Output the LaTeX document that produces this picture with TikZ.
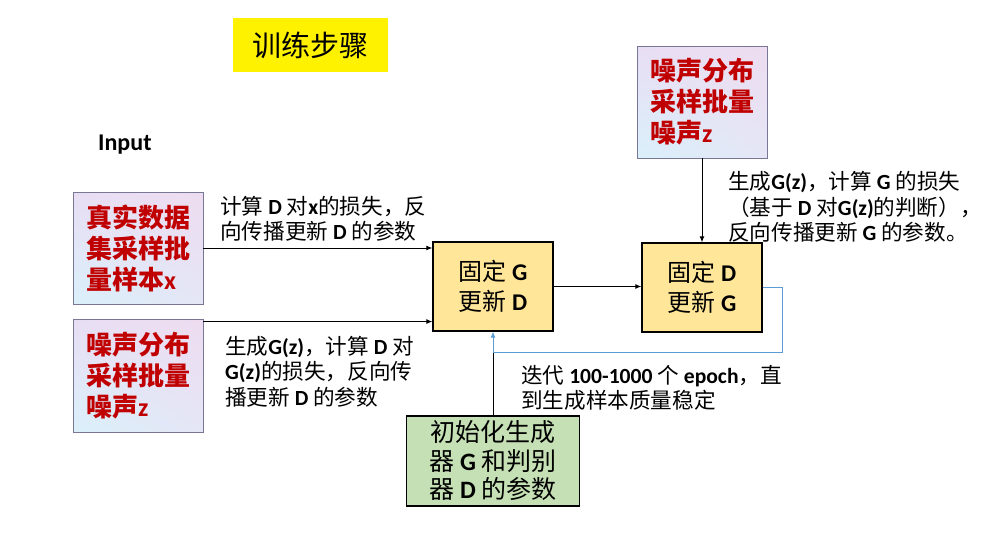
\documentclass[tikz,border=0pt]{standalone}
\usepackage{fontspec}
\setmainfont{Noto Sans CJK SC}
\newfontfamily\latfont{Carlito}
\newcommand\Lb[1]{{\latfont\bfseries #1}}
\usetikzlibrary{arrows.meta,shadings}
\definecolor{redtxt}{RGB}{192,0,0}
\definecolor{lavborder}{RGB}{120,120,150}
\definecolor{lavUL}{RGB}{232,222,244}
\definecolor{lavUR}{RGB}{238,220,240}
\definecolor{lavLL}{RGB}{218,240,250}
\definecolor{lavLR}{RGB}{228,230,246}
\definecolor{goldfill}{RGB}{255,230,153}
\definecolor{greenfill}{RGB}{197,224,180}
\definecolor{loopblue}{RGB}{91,155,213}
\tikzset{
  lav/.style={draw=lavborder, line width=0.9pt, upper left=lavUL, upper right=lavUR,
    lower left=lavLL, lower right=lavLR, minimum width=130pt, minimum height=112pt,
    align=left, text=redtxt, inner sep=0pt,
    font={\fontsize{26}{31}\selectfont\bfseries}},
  gold/.style={draw=black, line width=1.3pt, fill=goldfill, minimum width=120pt,
    minimum height=89pt, align=left, inner sep=0pt,
    font={\fontsize{24}{30}\selectfont}},
  lbl/.style={anchor=north west, inner sep=0pt, align=left,
    font={\fontsize{21.6}{25.5}\selectfont}},
  arr/.style={draw=black, line width=1pt, -{Latex[length=6pt,width=5pt]}},
}
\begin{document}
\begin{tikzpicture}[x=1pt,y=-1pt]
\useasboundingbox[fill=white] (0,0) rectangle (993,541);

\node[fill=yellow, minimum width=155pt, minimum height=54pt, inner sep=0pt,
  font={\fontsize{29}{34}\selectfont}] (title) at (310.5,45) {训练步骤};

\node[anchor=west, inner sep=0pt, font={\fontsize{24}{28}\selectfont\latfont\bfseries}]
  (input) at (98,145) {Input};

\node[lav] (b1) at (138,248) {真实数据\\集采样批\\量样本\Lb{x}};
\node[lav, minimum height=113pt] (b2) at (138,375.5) {噪声分布\\采样批量\\噪声\Lb{z}};
\node[lav] (tn) at (702,102) {噪声分布\\采样批量\\噪声\Lb{z}};

\node[gold] (bG) at (493,286.5) {固定\Lb{ G}\\更新\Lb{ D}};
\node[gold] (bD) at (702,287.5) {固定\Lb{ D}\\更新\Lb{ G}};

\node[draw=black, line width=1.3pt, fill=greenfill, minimum width=173pt,
  minimum height=90pt, align=center, inner sep=0pt,
  font={\fontsize{25}{28.5}\selectfont}] (init) at (493,461)
  {初始化生成\\器\Lb{ G }和判别\\器\Lb{ D }的参数};

\node[lbl] (l1) at (220,196) {计算\Lb{ D }对\Lb{x}的损失，反\\向传播更新\Lb{ D }的参数};
\node[lbl] (l2) at (225,336) {生成\Lb{G(z)}，计算\Lb{ D }对\\\Lb{G(z)}的损失，反向传\\播更新\Lb{ D }的参数};
\node[lbl] (l3) at (728,171.5) {生成\Lb{G(z)}，计算\Lb{ G }的损失\\（基于\Lb{ D }对\Lb{G(z)}的判断），\\反向传播更新\Lb{ G }的参数。};
\node[lbl] (l4) at (521,365) {迭代\Lb{ 100-1000 }个\Lb{ epoch}，直\\到生成样本质量稳定};

\draw[arr] (b1.east) -- (b1.east -| bG.west);
\draw[arr] ([yshift=-3pt]b2.north east) -- ([yshift=-3pt]b2.north east -| bG.west);
\draw[arr] (bG.east) -- (bG.east -| bD.west);
\draw[arr] (tn.south) -- (bD.north);

\coordinate (fb) at (782,352);
\draw[black, line width=1pt] (init.north) -- (init.north |- fb);
\draw[loopblue, line width=1pt, -{Latex[length=6pt,width=5pt]}]
  (bD.east) -| (fb) -| (bG.south);
\end{tikzpicture}
\end{document}
